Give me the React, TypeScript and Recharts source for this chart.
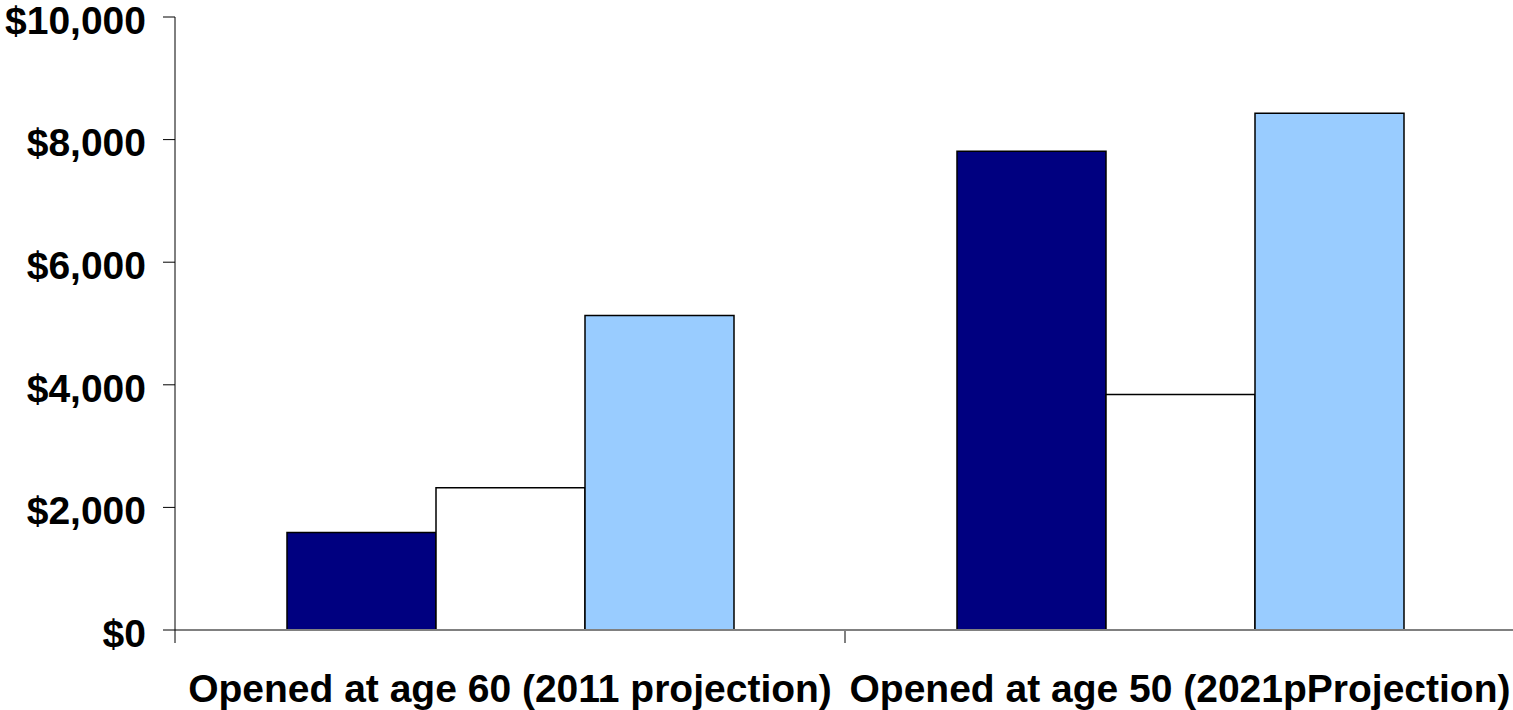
import React from "react";
import { BarChart, Bar, XAxis, YAxis } from "recharts";

// Group labels along the bottom axis
const categories = [
  "Opened at age 60 (2011 projection)",
  "Opened at age 50 (2021pProjection)",
];

// Annual values for the three series, one entry per group
const seriesNavy = [1590, 7810];
const seriesWhite = [2320, 3840];
const seriesLight = [5130, 8430];

// Value axis tick marks
const yTicks = [0, 2000, 4000, 6000, 8000, 10000];

const data = categories.map((name, i) => ({
  name,
  navy: seriesNavy[i],
  white: seriesWhite[i],
  light: seriesLight[i],
}));

const FONT = "'Liberation Sans', Arial, sans-serif";
const X_TICK_SIZE = 12;
const X_TICK_MARGIN = 32;

const formatDollar = (v: number) => "$" + v.toLocaleString("en-US");

// Category label plus tick marks on the group boundaries (not the centres)
const CategoryTick = (props: any) => {
  const { x, y, payload, index, visibleTicksCount } = props;
  const half = payload && typeof payload.offset === "number" ? payload.offset : 0;
  const axisY = y - X_TICK_SIZE - X_TICK_MARGIN;
  const isLast = index === (visibleTicksCount ?? categories.length) - 1;
  return (
    <g>
      <line
        x1={x - half}
        x2={x - half}
        y1={axisY}
        y2={axisY + X_TICK_SIZE + 1}
        stroke={index === 0 ? "#000" : "#808080"}
        strokeWidth={index === 0 ? 1 : 2}
      />
      {isLast && (
        <line
          x1={x + half}
          x2={x + half}
          y1={axisY}
          y2={axisY + X_TICK_SIZE + 1}
          stroke="#808080"
          strokeWidth={2}
        />
      )}
      <text
        x={x}
        y={y}
        dy="0.71em"
        textAnchor="middle"
        fill="#000"
        fontSize={39}
        fontWeight={700}
        fontFamily={FONT}
      >
        {payload.value}
      </text>
    </g>
  );
};

export default function App() {
  return (
    <div style={{ position: "absolute", left: 0, top: 0, background: "#fff" }}>
      <BarChart
        width={1520}
        height={710}
        data={data}
        margin={{ top: 17, right: 5, bottom: 0, left: 0 }}
        barGap={0}
        barSize={149}
      >
        <XAxis
          dataKey="name"
          height={80}
          axisLine={{ stroke: "#808080", strokeWidth: 2 }}
          tickLine={false}
          tickSize={X_TICK_SIZE}
          tickMargin={X_TICK_MARGIN}
          interval={0}
          tick={<CategoryTick />}
        />
        <YAxis
          width={175}
          domain={[0, 10000]}
          ticks={yTicks}
          interval={0}
          tickFormatter={formatDollar}
          axisLine={{ stroke: "#000", strokeWidth: 1 }}
          tickLine={{ stroke: "#000", strokeWidth: 1 }}
          tickSize={12}
          tickMargin={17}
          tick={{ fill: "#000", fontSize: 39, fontWeight: 700, fontFamily: FONT, dy: 3 }}
        />
        <Bar dataKey="navy" fill="#000080" stroke="#000" strokeWidth={1.5} isAnimationActive={false} />
        <Bar dataKey="white" fill="#ffffff" stroke="#000" strokeWidth={1.5} isAnimationActive={false} />
        <Bar dataKey="light" fill="#99ccff" stroke="#000" strokeWidth={1.5} isAnimationActive={false} />
      </BarChart>
    </div>
  );
}
